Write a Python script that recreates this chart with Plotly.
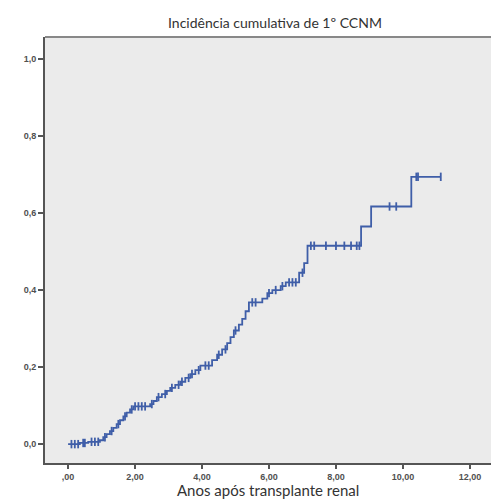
import numpy as np
import plotly.graph_objects as go

# Step events: time (years) and cumulative incidence after the step
event_times = [0.00, 0.35, 0.60, 0.95, 1.05, 1.15, 1.25, 1.35, 1.45, 1.55, 1.65, 1.75,
               1.85, 1.95, 2.45, 2.55, 2.65, 2.80, 2.95, 3.05, 3.20, 3.35, 3.50, 3.65,
               3.80, 3.95, 4.30, 4.45, 4.60, 4.75, 4.85, 4.95, 5.10, 5.20, 5.30, 5.40,
               5.80, 5.95, 6.10, 6.35, 6.50, 6.90, 7.05, 7.15, 8.75, 9.05, 10.25, 11.13]
cum_incidence = [0.000, 0.003, 0.006, 0.010, 0.018, 0.026, 0.034, 0.042, 0.052, 0.062, 0.072, 0.082,
                 0.090, 0.098, 0.104, 0.112, 0.122, 0.130, 0.138, 0.146, 0.154, 0.162, 0.172, 0.182,
                 0.192, 0.204, 0.218, 0.232, 0.246, 0.262, 0.278, 0.295, 0.310, 0.325, 0.345, 0.368,
                 0.378, 0.392, 0.400, 0.410, 0.420, 0.445, 0.470, 0.515, 0.565, 0.617, 0.694, 0.694]

# Censored observations (times)
censor_times = [0.10, 0.20, 0.30, 0.45, 0.50, 0.70, 0.80, 0.90, 1.10, 1.30, 1.50, 1.70, 1.90,
                2.00, 2.10, 2.20, 2.30, 2.50, 2.70, 2.90, 3.10, 3.30, 3.40, 3.60, 3.70, 3.90,
                4.10, 4.20, 4.50, 4.70, 5.00, 5.50, 5.60, 6.00, 6.20, 6.40, 6.60, 6.70, 6.80,
                7.00, 7.25, 7.35, 7.70, 8.00, 8.25, 8.45, 8.62, 8.70, 9.60, 9.80, 10.40, 10.45,
                11.13]

x_ticks = [0, 2, 4, 6, 8, 10, 12]
x_tick_text = [",00", "2,00", "4,00", "6,00", "8,00", "10,00", "12,00"]
y_ticks = [0.0, 0.2, 0.4, 0.6, 0.8, 1.0]
y_tick_text = ["0,0", "0,2", "0,4", "0,6", "0,8", "1,0"]

title_text = "Incidência cumulativa de 1º CCNM"
x_title = "Anos após transplante renal"

et = np.array(event_times)
ci = np.array(cum_incidence)
ct = np.array(censor_times)
idx = np.searchsorted(et, ct, side="right") - 1
censor_vals = ci[idx]

blue = "#3f5ea8"
tick_font = dict(family="Liberation Sans, Arial, sans-serif", size=9, color="#505050", weight="bold")

fig = go.Figure()
fig.add_trace(go.Scatter(x=event_times, y=cum_incidence, mode="lines",
                         line=dict(color=blue, width=1.8, shape="hv"),
                         showlegend=False, hoverinfo="skip"))
fig.add_trace(go.Scatter(x=ct, y=censor_vals, mode="markers",
                         marker=dict(symbol="line-ns", size=6,
                                     line=dict(color=blue, width=1.8)),
                         showlegend=False))

fig.update_layout(
    width=491, height=504,
    margin=dict(l=45, r=0, t=37, b=41),
    paper_bgcolor="white",
    plot_bgcolor="#ebebeb",
    title=dict(text=title_text, x=0.56, xref="container", xanchor="center",
               y=0.955, yref="container", yanchor="middle",
               font=dict(family="Lato, Open Sans, sans-serif", size=14, color="#333333")),
    xaxis=dict(range=[-0.69, 12.63], tickvals=x_ticks, ticktext=x_tick_text,
               showgrid=False, zeroline=False, showline=True, linecolor="#555555", linewidth=2,
               ticks="outside", ticklen=4, tickwidth=1.5, tickcolor="#555555",
               tickfont=tick_font),
    yaxis=dict(range=[-0.049, 1.057], tickvals=y_ticks, ticktext=y_tick_text,
               showgrid=False, zeroline=False, showline=True, linecolor="#555555", linewidth=2,
               ticks="outside", ticklen=5, tickwidth=1.5, tickcolor="#555555",
               tickfont=tick_font),
    shapes=[dict(type="line", xref="paper", yref="paper", x0=0, x1=1, y0=1, y1=1,
                 line=dict(color="#888888", width=2))],
    annotations=[dict(text=x_title, xref="paper", yref="paper", x=0.5, y=-0.064,
                      xanchor="center", yanchor="middle", showarrow=False,
                      font=dict(family="Lato, Open Sans, sans-serif", size=15, color="#333333"))],
)

fig.write_html("out.html")
